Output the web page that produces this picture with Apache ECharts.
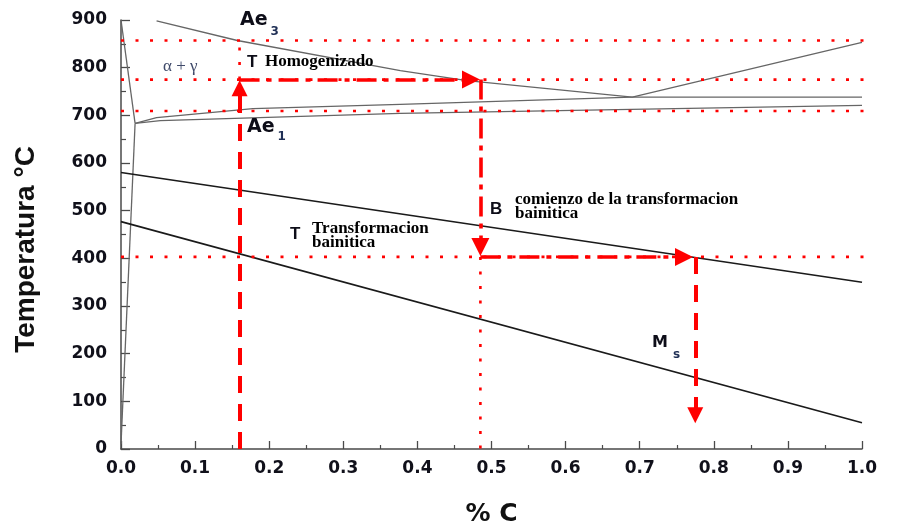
<!DOCTYPE html>
<html>
<head>
<meta charset="utf-8">
<script src="https://cdn.jsdelivr.net/npm/echarts@6/dist/echarts.min.js"></script>
<style>
html,body{margin:0;padding:0;background:#fff;}
#c{width:904px;height:529px;}
</style>
</head>
<body>
<div id="c"></div>
<script>
// ---- tick values ----
const xTickValues = [0.0, 0.1, 0.2, 0.3, 0.4, 0.5, 0.6, 0.7, 0.8, 0.9, 1.0];
const yTickValues = [0, 100, 200, 300, 400, 500, 600, 700, 800, 900];

// ---- phase diagram lines [%C, T] ----
const ae3Line      = [[0.048, 898], [0.157, 857], [0.377, 794], [0.467, 773], [0.69, 738], [1.0, 853]];
const a1Upper      = [[0.019, 683], [0.048, 695], [0.178, 714], [0.377, 723], [0.69, 738], [1.0, 738]];
const a1Lower      = [[0.019, 683], [0.053, 689], [0.377, 704], [1.0, 721]];
const leftA3       = [[0.0, 900], [0.019, 683]];
const leftLow      = [[0.019, 683], [0.0, 10]];
const bsLine       = [[0.0, 580], [1.0, 350]];
const msLine       = [[0.0, 477], [1.0, 55]];

// ---- red reference lines ----
const dottedLevels = [857, 775, 709, 403];
const dottedXEnd   = 1.042;
const dottedVert   = [
  [[0.16, 775], [0.16, 857]],
  [[0.485, 403], [0.485, 0]]
];
const dashedArrows = [
  [[0.16, 0], [0.16, 757]],
  [[0.775, 403], [0.775, 71]]
];
const dashDotArrows = [
  [[0.16, 775], [0.4723, 775]],
  [[0.485, 775], [0.485, 424]],
  [[0.485, 403], [0.7598, 403]]
];

// ---- annotations [%C, T, text, style] ----
const annotations = [
  [0.1606, 900,   '{ae|Ae}{s3|3}', 'sub'],
  [0.0567, 803.4, 'α + γ', 'greek'],
  [0.170,  811.8, 'T', 'letter'],
  [0.1943, 811.8, 'Homogenizado', 'serif'],
  [0.170,  675.5, '{ae|Ae}{s1|1}', 'sub'],
  [0.498,  503.5, 'B', 'letter'],
  [0.5317, 507.7, 'comienzo de la transformacion\nbainitica', 'serif'],
  [0.228,  451,   'T', 'letter'],
  [0.2578, 446.8, 'Transformacion\nbainitica', 'serif'],
  [0.7166, 223.4, '{m|M}{ss|s}', 'sub']
];

const labelStyles = {
  sub:    {},
  greek:  {fontFamily: 'Liberation Serif', fontSize: 17, color: '#3f4a6a'},
  letter: {fontFamily: 'Liberation Sans', fontWeight: 'bold', fontSize: 17, color: '#0d0d18'},
  serif:  {fontFamily: 'Liberation Serif', fontWeight: 'bold', fontSize: 17, lineHeight: 14, color: '#000000'}
};

const RED = '#ff0000';
const GRAY = '#666666';
const BLACK = '#1a1a1a';

function plain(data, color, width) {
  return {
    type: 'line', data: data, symbol: 'none', silent: true, z: 2,
    lineStyle: {color: color, width: width}
  };
}

const series = [
  plain(ae3Line, GRAY, 1.3),
  plain(a1Upper, GRAY, 1.3),
  plain(a1Lower, GRAY, 1.3),
  plain(leftA3, GRAY, 1.3),
  plain(leftLow, GRAY, 1.3),
  plain(bsLine, BLACK, 1.6),
  plain(msLine, BLACK, 1.6)
];

dottedLevels.forEach(function (lv) {
  series.push({
    type: 'line', data: [[0, lv], [dottedXEnd, lv]], symbol: 'none', silent: true,
    clip: false, z: 3,
    lineStyle: {color: RED, width: 2.6, type: [3, 11.5]}
  });
});
dottedVert.forEach(function (seg) {
  series.push({
    type: 'line', data: seg, symbol: 'none', silent: true, z: 3,
    lineStyle: {color: RED, width: 2.6, type: [3, 11.5]}
  });
});

series.push({
  type: 'lines', coordinateSystem: 'cartesian2d', silent: true, z: 4,
  symbol: ['none', 'triangle'], symbolSize: [13, 16],
  lineStyle: {color: RED, width: 4, type: [17, 11], opacity: 1, curveness: 0},
  data: dashedArrows.map(function (c) { return {coords: c}; })
});
series.push({
  type: 'lines', coordinateSystem: 'cartesian2d', silent: true, z: 4,
  symbol: ['none', 'triangle'], symbolSize: [11, 18],
  lineStyle: {color: RED, width: 3.6, type: [20, 7, 5, 7], opacity: 1, curveness: 0},
  data: dashDotArrows.map(function (c) { return {coords: c}; })
});

series.push({
  type: 'scatter', symbolSize: 0, silent: true, z: 6,
  itemStyle: {opacity: 1},
  data: annotations.map(function (a) {
    return {
      value: [a[0], a[1]],
      label: Object.assign({show: true, position: 'right', distance: 0, opacity: 1, formatter: a[2]}, labelStyles[a[3]])
    };
  }),
  label: {
    show: true, position: 'right', distance: 0, color: '#000', opacity: 1,
    rich: {
      ae: {fontFamily: 'DejaVu Sans', fontWeight: 'bold', fontSize: 19, color: '#0d0d18'},
      s3: {fontFamily: 'DejaVu Sans', fontWeight: 'bold', fontSize: 12, color: '#1f2f55', padding: [23, 0, 0, 3]},
      s1: {fontFamily: 'DejaVu Sans', fontWeight: 'bold', fontSize: 12, color: '#1f2f55', padding: [20, 0, 0, 3]},
      m:  {fontFamily: 'DejaVu Sans', fontWeight: 'bold', fontSize: 16, color: '#0d0d18'},
      ss: {fontFamily: 'DejaVu Sans', fontWeight: 'bold', fontSize: 12, color: '#1f2f55', padding: [25, 0, 0, 5]}
    }
  }
});

const axisColor = '#4a4a4a';
const tickFont = {fontFamily: 'DejaVu Sans', fontWeight: 'bold', fontSize: 17, color: '#10101a'};

const chart = echarts.init(document.getElementById('c'), null, {renderer: 'canvas'});
chart.setOption({
  animation: false,
  backgroundColor: '#ffffff',
  grid: {left: 121, right: 42, top: 20, bottom: 80, containLabel: false, outerBoundsMode: 'none'},
  xAxis: {
    type: 'value',
    min: xTickValues[0], max: xTickValues[xTickValues.length - 1],
    interval: xTickValues[1] - xTickValues[0],
    name: '% C', nameLocation: 'middle', nameGap: 53,
    nameTextStyle: {fontFamily: 'DejaVu Sans', fontWeight: 'bold', fontSize: 25, color: '#111'},
    axisLine: {show: true, lineStyle: {color: axisColor, width: 1.5}},
    axisTick: {show: true, inside: true, length: 8, lineStyle: {color: axisColor, width: 1.3}},
    minorTick: {show: true, splitNumber: 2, length: 4, lineStyle: {color: axisColor, width: 1.2}},
    splitLine: {show: false},
    minorSplitLine: {show: false},
    axisLabel: Object.assign({margin: 11, formatter: function (v) { return v.toFixed(1); }}, tickFont)
  },
  yAxis: {
    type: 'value',
    min: yTickValues[0], max: yTickValues[yTickValues.length - 1],
    interval: yTickValues[1] - yTickValues[0],
    name: 'Temperatura °C', nameLocation: 'middle', nameGap: 81, nameRotate: 90,
    nameTextStyle: {fontFamily: 'Liberation Sans', fontWeight: 'bold', fontSize: 28, color: '#111', padding: [0, 30, 0, 0]},
    axisLine: {show: true, lineStyle: {color: axisColor, width: 1.5}},
    axisTick: {show: true, inside: true, length: 9, lineStyle: {color: axisColor, width: 1.3}},
    minorTick: {show: true, splitNumber: 2, length: 5, lineStyle: {color: axisColor, width: 1.2}},
    splitLine: {show: false},
    minorSplitLine: {show: false},
    axisLabel: Object.assign({margin: 14}, tickFont)
  },
  series: series
});
</script>
</body>
</html>
